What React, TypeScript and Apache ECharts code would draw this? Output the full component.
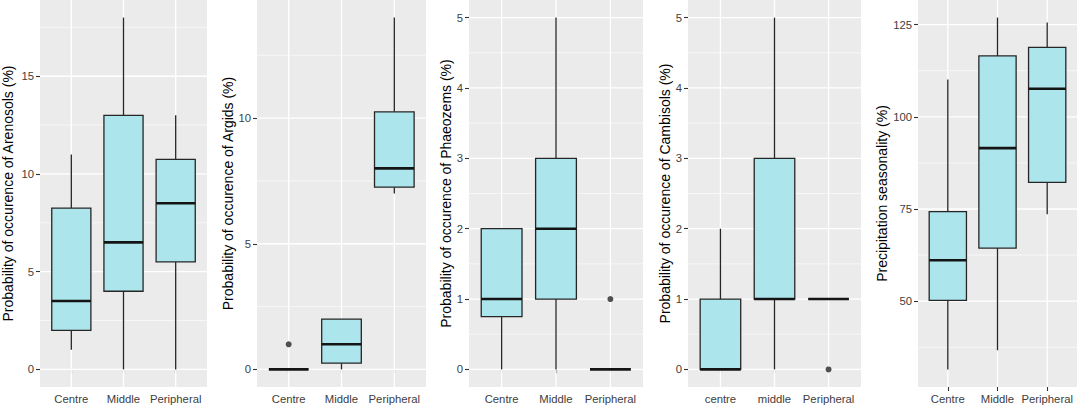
import React, { useEffect, useRef } from 'react';
import * as echarts from 'echarts';

// ---- data ----
const catsA = ['Centre', 'Middle', 'Peripheral'];
const catsB = ['centre', 'middle', 'Peripheral'];

// each box: [min, q1, median, q3, max]
const arenosols = [[1, 2, 3.5, 8.25, 11], [0, 4, 6.5, 13, 18], [0, 5.5, 8.5, 10.75, 13]];
const arenosolsOutliers: number[][] = [];
const argids = [[0, 0, 0, 0, 0], [0, 0.25, 1, 2, 2], [7, 7.25, 8, 10.25, 14]];
const argidsOutliers = [[1, 1]];
const phaeozems = [[0, 0.75, 1, 2, 2], [0, 1, 2, 3, 5], [0, 0, 0, 0, 0]];
const phaeozemsOutliers = [[3, 1]];
const cambisols = [[0, 0, 0, 1, 2], [0, 1, 1, 3, 5], [1, 1, 1, 1, 1]];
const cambisolsOutliers = [[3, 0]];
const precip = [[31.5, 50.2, 61.1, 74.3, 110.1], [36.7, 64.4, 91.5, 116.5, 126.9], [73.6, 82.2, 107.6, 118.8, 125.6]];
const precipOutliers: number[][] = [];

const ticksArenosols = [0, 5, 10, 15];
const minorArenosols = [2.5, 7.5, 12.5, 17.5];
const ticksArgids = [0, 5, 10];
const minorArgids = [2.5, 7.5, 12.5];
const ticksSmall = [0, 1, 2, 3, 4, 5];
const minorSmall = [0.5, 1.5, 2.5, 3.5, 4.5];
const ticksPrecip = [50, 75, 100, 125];
const minorPrecip = [37.5, 62.5, 87.5, 112.5];

const titles = [
  'Probability of occurence of Arenosols (%)',
  'Probability of occurence of Argids (%)',
  'Probability of occurence of Phaeozems (%)',
  'Probability of occurence of Cambisols (%)',
  'Precipitation seasonality (%)',
];

const panelData = [
  { cats: catsA, boxes: arenosols, outliers: arenosolsOutliers, major: ticksArenosols, minor: minorArenosols },
  { cats: catsA, boxes: argids, outliers: argidsOutliers, major: ticksArgids, minor: minorArgids },
  { cats: catsA, boxes: phaeozems, outliers: phaeozemsOutliers, major: ticksSmall, minor: minorSmall },
  { cats: catsB, boxes: cambisols, outliers: cambisolsOutliers, major: ticksSmall, minor: minorSmall },
  { cats: catsA, boxes: precip, outliers: precipOutliers, major: ticksPrecip, minor: minorPrecip },
];

// ---- layout ----
const layout = [
  { left: 38, width: 169, gap: 25 },
  { left: 257, width: 169, gap: 21 },
  { left: 469, width: 174, gap: 14 },
  { left: 688, width: 173, gap: 16 },
  { left: 918, width: 159, gap: 28 },
];
const PLOT_TOP = 0;
const PLOT_H = 387;

const FONT = 'Liberation Sans, Arial, Helvetica, sans-serif';
const BOX_FILL = '#ADE5EC';
const BOX_STROKE = '#262626';

function buildOption() {
  const grid: any[] = [];
  const xAxis: any[] = [];
  const yAxis: any[] = [];
  const series: any[] = [];

  panelData.forEach((p, i) => {
    const L = layout[i];
    const allVals: number[] = [];
    p.boxes.forEach((b) => allVals.push(...b));
    p.outliers.forEach((o) => allVals.push(o[1]));
    const lo = Math.min(...allVals);
    const hi = Math.max(...allVals);
    const pad = (hi - lo) * 0.05;
    const yMin = lo - pad;
    const yMax = hi + pad;

    grid.push({
      left: L.left,
      top: PLOT_TOP,
      width: L.width,
      height: PLOT_H,
      show: true,
      backgroundColor: '#EBEBEB',
      borderWidth: 0,
      containLabel: false,
    });
    const cats = p.cats;
    xAxis.push({
      type: 'value',
      gridIndex: i,
      min: 0.4,
      max: 3.6,
      axisLine: { show: false },
      splitLine: { show: false },
      axisTick: { show: true, length: 4, lineStyle: { color: '#333', width: 1.1 }, customValues: [1, 2, 3] },
      axisLabel: {
        customValues: [1, 2, 3],
        formatter: (v: number) => cats[Math.round(v) - 1] ?? '',
        color: '#404040',
        fontSize: 11.3,
        fontFamily: FONT,
        margin: 6,
      },
    });
    yAxis.push({
      type: 'value',
      gridIndex: i,
      min: yMin,
      max: yMax,
      name: titles[i],
      nameLocation: 'middle',
      nameGap: L.gap,
      nameTextStyle: { color: '#000', fontSize: 14, fontFamily: FONT },
      axisLine: { show: false },
      splitLine: { show: false },
      axisTick: { show: true, length: 4, lineStyle: { color: '#333', width: 1.1 }, customValues: p.major },
      axisLabel: {
        customValues: p.major,
        color: '#404040',
        fontSize: 11.3,
        fontFamily: FONT,
        margin: 6,
      },
    });

    const midY = (yMin + yMax) / 2;
    const gridRows: number[][] = [];
    p.major.forEach((v) => gridRows.push([2, v, 0, 1]));
    p.minor.forEach((v) => gridRows.push([2, v, 0, 0]));
    [1, 2, 3].forEach((v) => gridRows.push([v, midY, 1, 1]));

    series.push({
      type: 'custom',
      xAxisIndex: i,
      yAxisIndex: i,
      silent: true,
      z: 1,
      data: gridRows,
      encode: { x: 0, y: 1 },
      renderItem: (params: any, api: any) => {
        const kind = api.value(2);
        const major = api.value(3);
        const cs = params.coordSys;
        if (kind === 0) {
          const y = api.coord([2, api.value(1)])[1];
          return {
            type: 'line',
            shape: { x1: cs.x, y1: y, x2: cs.x + cs.width, y2: y },
            style: { stroke: '#FFFFFF', lineWidth: major ? 1.3 : 0.6 },
          };
        }
        const x = api.coord([api.value(0), api.value(1)])[0];
        return {
          type: 'line',
          shape: { x1: x, y1: cs.y, x2: x, y2: cs.y + cs.height },
          style: { stroke: '#FFFFFF', lineWidth: 1.3 },
        };
      },
    });

    series.push({
      type: 'custom',
      xAxisIndex: i,
      yAxisIndex: i,
      silent: true,
      z: 2,
      data: p.boxes.map((b, k) => [k + 1, ...b]),
      encode: { x: 0, y: [1, 2, 3, 4, 5] },
      renderItem: (params: any, api: any) => {
        const x = api.value(0);
        const pMin = api.coord([x, api.value(1)]);
        const pQ1 = api.coord([x, api.value(2)]);
        const pMed = api.coord([x, api.value(3)]);
        const pQ3 = api.coord([x, api.value(4)]);
        const pMax = api.coord([x, api.value(5)]);
        const half = api.size([0.75, 0])[0] / 2;
        const cx = pMin[0];
        const ws = { stroke: BOX_STROKE, lineWidth: 1.3 };
        return {
          type: 'group',
          children: [
            { type: 'line', shape: { x1: cx, y1: pMax[1], x2: cx, y2: pQ3[1] }, style: ws },
            { type: 'line', shape: { x1: cx, y1: pQ1[1], x2: cx, y2: pMin[1] }, style: ws },
            {
              type: 'rect',
              shape: { x: cx - half, y: pQ3[1], width: half * 2, height: pQ1[1] - pQ3[1] },
              style: { fill: BOX_FILL, stroke: BOX_STROKE, lineWidth: 1.3 },
            },
            {
              type: 'line',
              shape: { x1: cx - half, y1: pMed[1], x2: cx + half, y2: pMed[1] },
              style: { stroke: '#141414', lineWidth: 2.6 },
            },
          ],
        };
      },
    });

    if (p.outliers.length) {
      series.push({
        type: 'scatter',
        xAxisIndex: i,
        yAxisIndex: i,
        silent: true,
        z: 3,
        symbol: 'circle',
        symbolSize: 6,
        itemStyle: { color: '#262626' },
        data: p.outliers,
      });
    }
  });

  return {
    animation: false,
    backgroundColor: '#FFFFFF',
    grid,
    xAxis,
    yAxis,
    series,
  };
}

export default function App() {
  const ref = useRef<HTMLDivElement>(null);
  useEffect(() => {
    if (!ref.current) return;
    const chart = echarts.init(ref.current, undefined, { renderer: 'svg' });
    chart.setOption(buildOption());
    return () => chart.dispose();
  }, []);
  return (
    <div
      ref={ref}
      style={{ position: 'fixed', left: 0, top: 0, width: 1084, height: 406 }}
    />
  );
}
